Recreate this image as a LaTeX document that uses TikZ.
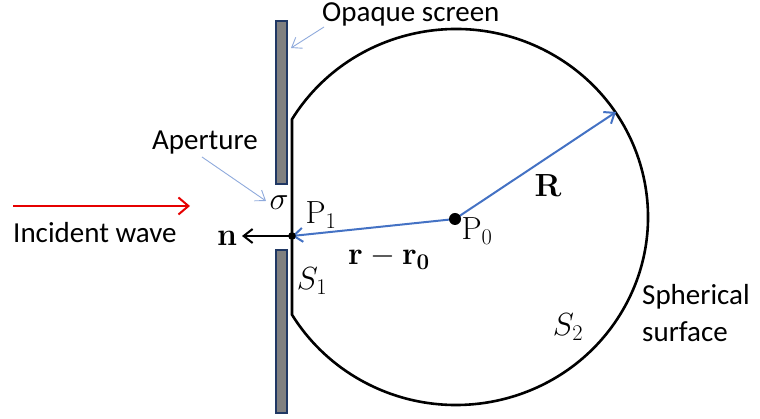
\RequirePackage{fix-cm}
\documentclass[tikz,border=0pt]{standalone}
\usepackage[no-math]{fontspec}
\setmainfont{Carlito}
\usetikzlibrary{arrows.meta,calc}

\definecolor{arrowblue}{RGB}{68,114,196}
\definecolor{callblue}{RGB}{143,170,220}
\definecolor{screengray}{RGB}{128,128,128}
\definecolor{screenedge}{RGB}{32,56,100}
\definecolor{wavered}{RGB}{230,0,0}

\begin{document}
\begin{tikzpicture}[x=1pt,y=1pt,
    txt/.style={font=\fontsize{29}{33}\selectfont,inner sep=0pt},
    sym/.style={font=\fontsize{32}{36}\selectfont,inner sep=0pt},
    screenbar/.style={draw=screenedge,line width=1.2pt,fill=screengray},
    surface/.style={line width=2.6pt,line join=miter},
    vecarrow/.style={arrowblue,line width=2pt,-{Straight Barb[length=9pt,width=14pt]}},
    callout/.style={callblue,line width=0.9pt,-{Straight Barb[length=9pt,width=13pt]}}]
  \useasboundingbox (0,0) rectangle (760,419);
  % screen
  \draw[screenbar] (276,235) rectangle (287,398);
  \draw[screenbar] (276,6) rectangle (287,169);
  % closed surface S1 + S2
  \coordinate (C) at (456,202);
  \coordinate (K1) at ($(C)+(148.7:192pt and 188pt)$);
  \coordinate (K2) at ($(C)+(-148.7:192pt and 188pt)$);
  \draw[surface] (K2) -- (K1) arc[start angle=148.7,end angle=-148.7,x radius=192pt,y radius=188pt] -- cycle;
  % points and vectors
  \coordinate (P1) at (292,183);
  \coordinate (P0) at (455,200);
  \coordinate (Rend) at (616,307);
  \coordinate (nend) at (242,183);
  \draw[vecarrow] (P0) -- (P1);
  \draw[vecarrow] (P0) -- (Rend);
  \draw[line width=2pt,-{Straight Barb[length=9pt,width=14pt]}] (P1) -- (nend);
  \fill (P0) circle (6pt);
  \fill (P1) circle (3.8pt);
  % incident wave
  \coordinate (w1) at (13,213);
  \coordinate (w2) at (190,213);
  \draw[wavered,line width=2pt,-{Straight Barb[length=10pt,width=17pt]}] (w1) -- (w2);
  \node[txt,anchor=base west] (inc) at (13,176) {Incident wave};
  % labels
  \node[txt,anchor=base west] (opq) at (322,397) {Opaque screen};
  \node[txt,anchor=base east] (ape) at (258,269) {Aperture};
  \coordinate (opqtail) at (324,392);
  \coordinate (opqtip) at (291,371);
  \coordinate (apetail) at (202,262);
  \coordinate (apetip) at (266,218);
  \draw[callout] (opqtail) -- (opqtip);
  \draw[callout] (apetail) -- (apetip);
  \node[sym] (sig) at (279,216) {$\sigma$};
  \node[sym] (lp1) at (321,204) {$\mathrm{P}_1$};
  \node[sym] (lp0) at (477,188) {$\mathrm{P}_0$};
  \node[sym] (lrr) at (389,161) {$\mathbf{r}-\mathbf{r_0}$};
  \node[sym] (lR) at (548,233) {$\mathbf{R}$};
  \node[sym] (ln) at (227,181) {$\mathbf{n}$};
  \node[sym] (ls1) at (312,138) {$S_1$};
  \node[sym] (ls2) at (568,92) {$S_2$};
  \node[txt,anchor=base west] (sph) at (642,114) {Spherical};
  \node[txt,anchor=base west] (srf) at (642,77) {surface};
\end{tikzpicture}
\end{document}
